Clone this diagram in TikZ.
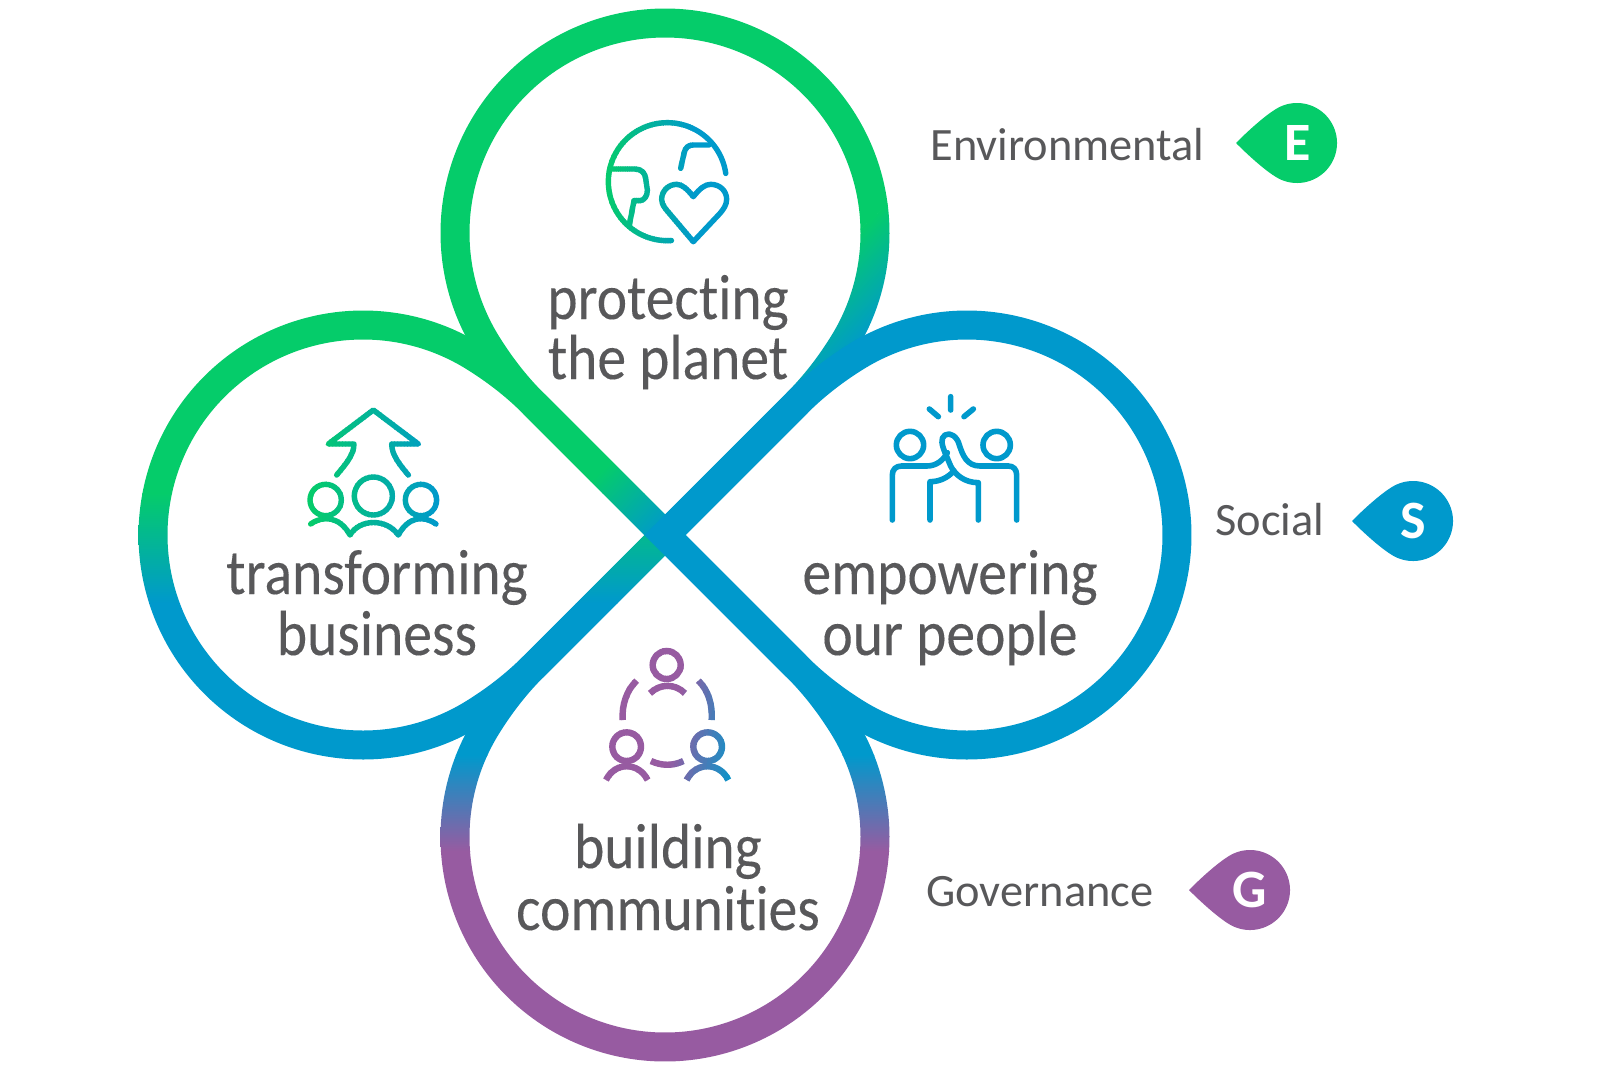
\documentclass[tikz,border=0pt]{standalone}
\usepackage{fontspec}
\setmainfont{Carlito}
\newfontfamily\ttlfont[FakeStretch=0.9,FakeBold=0.15,Ligatures=NoCommon]{Carlito}
\definecolor{cgreen}{HTML}{05CC6A}
\definecolor{cblue}{HTML}{0099CC}
\definecolor{cpurple}{HTML}{975BA1}
\definecolor{cgray}{HTML}{58585A}
\colorlet{iconcol}{cblue}
\tikzset{x=0.5pt,y=-0.5pt,
  ticon/.style={line width=2.7pt,line cap=round,line join=round,draw=iconcol},
  ticonb/.style={line width=3.2pt,line cap=butt,line join=round,draw=iconcol},
  hfive/.style={line width=2.8pt,line cap=round,line join=round,draw=cblue},
  titletext/.style={font=\ttlfont\fontsize{32}{32}\selectfont,text=cgray,anchor=base,inner sep=0pt},
  labeltext/.style={font=\fontsize{23.2}{23.2}\selectfont,text=cgray,anchor=base west,inner sep=0pt},
  tagtext/.style={font=\bfseries\fontsize{27}{27}\selectfont,text=white,inner sep=0pt}
}
% -------- icon bodies ---------
\newcommand{\iconglobe}{%
\begin{scope}[shift={(560,90)},scale=1/3]
\draw[ticon] plot[domain=-8:-274,samples=120] ({322+177*cos(\x)},{275+177*sin(\x)});
\draw[ticon] (150,237) -- (225,237) .. controls (245,237) and (255,250) .. (257,265) -- (262,300) .. controls (263,320) and (250,332) .. (240,332) -- (222,332) -- (208,405);
\draw[ticon] (362,235) -- (372,190) .. controls (376,172) and (385,165) .. (400,165) -- (447,165);
\draw[ticon] (400,320) .. controls (380,295) and (365,283) .. (350,283) .. controls (325,283) and (305,303) .. (305,328) .. controls (305,345) and (318,358) .. (328,370) -- (400,455) -- (480,370) .. controls (490,358) and (500,345) .. (500,328) .. controls (500,303) and (480,283) .. (452,283) .. controls (435,283) and (420,295) .. (400,320) -- cycle;
\end{scope}}
\newcommand{\iconup}{%
\begin{scope}[shift={(280,390)},scale=1/3]
\draw[ticon] (170,255) .. controls (195,225) and (222,195) .. (222,162) -- (145,162) -- (280,60) -- (415,162) -- (335,162) .. controls (335,195) and (360,225) .. (385,255);
\draw[ticon] (137,330) circle[radius=47];
\draw[ticon] (280,318) circle[radius=57];
\draw[ticon] (423,330) circle[radius=47];
\draw[ticon] (92,402) .. controls (130,375) and (180,380) .. (210,435) .. controls (240,385) and (320,385) .. (355,435) .. controls (385,380) and (430,375) .. (468,402);
\end{scope}}
\newcommand{\iconcomm}{%
\begin{scope}[shift={(580,630)},scale=1/3]
\draw[ticonb] (260,105) circle[radius=42];
\draw[ticonb] (210,190) .. controls (240,160) and (285,160) .. (315,190);
\draw[ticonb] (140,350) circle[radius=43];
\draw[ticonb] (78,450) .. controls (105,395) and (175,395) .. (203,450);
\draw[ticonb] (383,350) circle[radius=43];
\draw[ticonb] (320,450) .. controls (347,395) and (418,395) .. (445,450);
\draw[ticonb] (170,152) .. controls (140,180) and (125,225) .. (128,270);
\draw[ticonb] (355,152) .. controls (385,180) and (398,225) .. (395,270);
\draw[ticonb] (213,393) .. controls (245,408) and (280,408) .. (310,393);
\end{scope}}
% gradient icon: body, cx, cy, direction, half length, start fraction, colour A, colour B
\newcommand{\gradicon}[8]{%
  \foreach \ii in {0,...,39}{%
    \pgfmathsetmacro{\ssa}{-(#5)+2*(#5)*\ii/40-0.3-300*(\ii==0)}%
    \pgfmathsetmacro{\ssb}{-(#5)+2*(#5)*(\ii+1)/40+0.3+300*(\ii==39)}%
    \pgfmathsetmacro{\pct}{100*max(0,((\ii+0.5)/40-(#6))/(1-(#6)))}%
    \colorlet{iconcol}{#8!\pct!#7}%
    \begin{scope}
      \clip ({#2+\ssa*cos(#4)+400*sin(#4)},{#3+\ssa*sin(#4)-400*cos(#4)}) --
            ({#2+\ssb*cos(#4)+400*sin(#4)},{#3+\ssb*sin(#4)-400*cos(#4)}) --
            ({#2+\ssb*cos(#4)-400*sin(#4)},{#3+\ssb*sin(#4)+400*cos(#4)}) --
            ({#2+\ssa*cos(#4)-400*sin(#4)},{#3+\ssa*sin(#4)+400*cos(#4)}) -- cycle;
      #1
    \end{scope}}}
% -------- petals: tip at (665,535), local frame with x axis from centre to tip ---------
\newcommand{\pdd}{302}\newcommand{\pss}{185}\newcommand{\paa}{25}\newcommand{\pbj}{58}
% #1 offset k, #2 radius
\newcommand{\edgepath}[2]{%
  ({\pdd+(#1)*1.41421},0) --
  ({\pdd+(-\pss+#1)*0.70711},{(\pss+#1)*0.70711})
  .. controls ({\pdd+(-\pss+#1-\paa)*0.70711},{(\pss+#1+\paa)*0.70711})
  and ({(#2)*cos(\pbj)+\paa*sin(\pbj)},{(#2)*sin(\pbj)-\paa*cos(\pbj)})
  .. ({(#2)*cos(\pbj)},{(#2)*sin(\pbj)})
  -- plot[domain=\pbj:360-\pbj,samples=200] ({(#2)*cos(\x)},{(#2)*sin(\x)})
  .. controls ({(#2)*cos(\pbj)+\paa*sin(\pbj)},{-(#2)*sin(\pbj)+\paa*cos(\pbj)})
  and ({\pdd+(-\pss+#1-\paa)*0.70711},{-(\pss+#1+\paa)*0.70711})
  .. ({\pdd+(-\pss+#1)*0.70711},{-(\pss+#1)*0.70711}) -- cycle }
\newcommand{\petalclip}{\clip \edgepath{14.5}{224.5} \edgepath{-14.5}{195.5};}
% #1 x, #2 y of gradient centre, #3 canvas rotation, #4 half band, #5 first colour, #6 second colour
\newcommand{\gradfill}[6]{%
  \begin{scope}\pgftransformreset
  \begin{scope}[transform canvas={rotate around={#3:(#1,#2)}}]
    \fill[#5] ({#1-1200},{#2-1200}) rectangle ({#1+1200},{#2-#4+0.5});
    \fill[#6] ({#1-1200},{#2+#4-0.5}) rectangle ({#1+1200},{#2+1200});
    \shade[top color=#5,bottom color=#6] ({#1-1200},{#2-#4}) rectangle ({#1+1200},{#2+#4});
  \end{scope}\end{scope}}
\newcommand{\tagshape}[3]{% cx cy colour
  \begin{scope}[shift={(#1,#2)}]
  \fill[#3] (-61,0) .. controls (-52,9.2) and (-29.6,30.3) .. (-16.9,36.25)
     -- plot[domain=115:-115,samples=90] ({40*cos(\x)},{40*sin(\x)})
     .. controls (-29.6,-30.3) and (-52,-9.2) .. (-61,0) -- cycle;
  \end{scope}}
\begin{document}
\begin{tikzpicture}
\useasboundingbox (0,0) rectangle (1600,1067);
% bottom petal
\begin{scope}[even odd rule,shift={(665,837)},rotate=90]
  \petalclip
  \gradfill{665}{803}{0}{48}{cblue}{cpurple}
\end{scope}
% left petal
\begin{scope}[even odd rule,shift={(363,535)},rotate=0]
  \petalclip
  \gradfill{362}{548}{0}{55}{cgreen}{cblue}
\end{scope}
% top petal
\begin{scope}[even odd rule,shift={(665,233)},rotate=-90]
  \petalclip
  \gradfill{858}{290}{43}{43}{cgreen}{cblue}
\end{scope}
% right petal
\begin{scope}[even odd rule,shift={(967,535)},rotate=180]
  \petalclip
  \begin{scope}\pgftransformreset
  \fill[cblue] (600,200) rectangle (1300,900);
  \end{scope}
\end{scope}
% icons
\gradicon{\iconglobe}{650}{180}{0}{45}{0}{cgreen}{cblue}
\gradicon{\iconup}{375}{470}{0}{65}{0}{cgreen}{cblue}
\gradicon{\iconcomm}{667}{715}{10}{80}{0.56}{cpurple}{cblue}
% high five
\begin{scope}[shift={(860,380)},scale=1/3]
\draw[hfive] (272,50) -- (272,90) (208,87) -- (235,110) (340,87) -- (312,110);
\draw[hfive] (150,195) circle[radius=41];
\draw[hfive] (410,195) circle[radius=41];
\draw[hfive] (97,420) -- (97,285) .. controls (97,268) and (108,258) .. (125,258) -- (200,258) .. controls (230,258) and (250,240) .. (262,218);
\draw[hfive] (470,420) -- (470,285) .. controls (470,268) and (460,258) .. (445,258) -- (360,258) .. controls (320,258) and (308,225) .. (298,195) .. controls (292,170) and (270,155) .. (255,165) .. controls (240,175) and (245,195) .. (258,225) -- (272,258) .. controls (285,285) and (315,308) .. (355,308) -- (355,420);
\draw[hfive] (210,420) -- (210,305) .. controls (240,305) and (265,292) .. (282,272);
\end{scope}
% titles
\node[titletext] (t1a) at (668,319) {protecting};
\node[titletext] (t1b) at (668,379) {the planet};
\node[titletext] (t2a) at (377,594) {transforming};
\node[titletext] (t2b) at (377,655) {business};
\node[titletext] (t3a) at (950,594) {empowering};
\node[titletext] (t3b) at (950,655) {our people};
\node[titletext] (t4a) at (668,868) {building};
\node[titletext] (t4b) at (668,930) {communities};
% labels and tags
\node[labeltext] (le) at (930,160) {Environmental};
\node[labeltext] (ls) at (1215,535) {Social};
\node[labeltext] (lg) at (926,906) {Governance};
\tagshape{1297}{143}{cgreen}
\tagshape{1413}{521}{cblue}
\tagshape{1250}{890}{cpurple}
\node[tagtext] (te) at (1298,143) {E};
\node[tagtext] (ts) at (1413,521) {S};
\node[tagtext] (tg) at (1250,890) {G};
\end{tikzpicture}
\end{document}
